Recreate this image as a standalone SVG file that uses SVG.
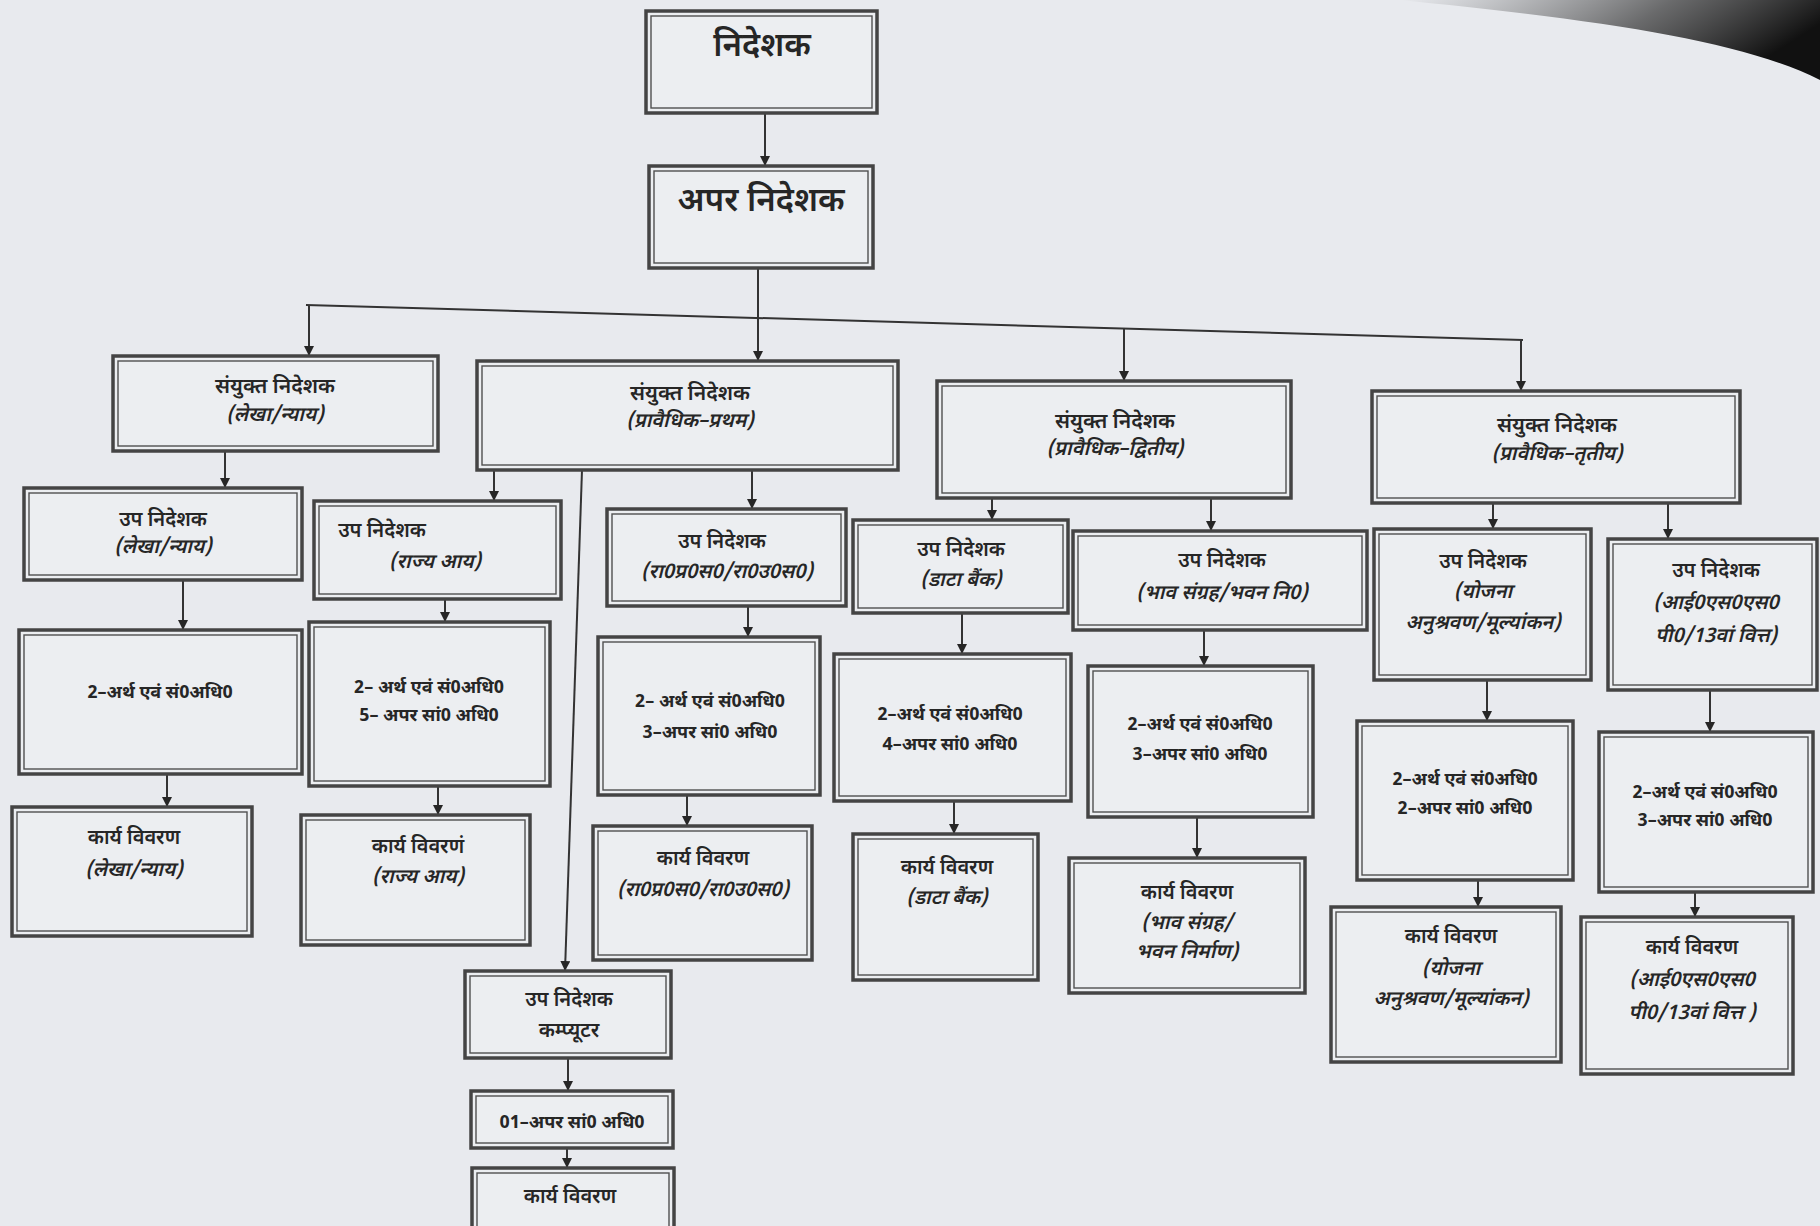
<svg xmlns="http://www.w3.org/2000/svg" width="1820" height="1226" viewBox="0 0 1820 1226">
<defs>
<style>
.o{fill:#eceef1;stroke:#444;stroke-width:3.5}
.i{fill:none;stroke:#505050;stroke-width:1.4}
text{font-family:"Noto Sans Devanagari","Lohit Devanagari","Noto Sans","DejaVu Sans",sans-serif;fill:#262626;text-anchor:middle;font-weight:600}
.t0{font-size:33px}
.t1{font-size:21px}
.it{font-size:20px;font-style:italic}
.t2{font-size:20px}
.st{font-size:18px;font-weight:700}
.ln{stroke:#333;stroke-width:2;fill:none}
</style>
<marker id="ah" viewBox="0 0 10 10" refX="10" refY="5" markerWidth="10" markerHeight="10" markerUnits="userSpaceOnUse" orient="auto">
<path d="M0,0 L10,5 L0,10 Z" fill="#262626"/>
</marker>
<linearGradient id="sm" x1="0" y1="0" x2="1" y2="0.3">
<stop offset="0" stop-color="#555" stop-opacity="0"/>
<stop offset="0.6" stop-color="#333" stop-opacity="0.7"/>
<stop offset="1" stop-color="#111" stop-opacity="1"/>
</linearGradient>
</defs>
<rect width="1820" height="1226" fill="#e8eaee"/>
<path d="M1400,0 L1820,0 L1820,80 C1740,40 1600,20 1400,0 Z" fill="url(#sm)"/>

<g id="connectors">
<line class="ln" x1="765" y1="113" x2="765" y2="166" marker-end="url(#ah)"/>
<line class="ln" x1="306" y1="305" x2="1523" y2="340"/>
<line class="ln" x1="309" y1="305" x2="309" y2="356" marker-end="url(#ah)"/>
<line class="ln" x1="758" y1="268" x2="758" y2="361" marker-end="url(#ah)"/>
<line class="ln" x1="1124" y1="329" x2="1124" y2="381" marker-end="url(#ah)"/>
<line class="ln" x1="1521" y1="340" x2="1521" y2="391" marker-end="url(#ah)"/>
<line class="ln" x1="225" y1="451" x2="225" y2="488" marker-end="url(#ah)"/>
<line class="ln" x1="494" y1="470" x2="494" y2="501" marker-end="url(#ah)"/>
<line class="ln" x1="752" y1="470" x2="752" y2="509" marker-end="url(#ah)"/>
<line class="ln" x1="582" y1="470" x2="565" y2="971" marker-end="url(#ah)"/>
<line class="ln" x1="992" y1="498" x2="992" y2="520" marker-end="url(#ah)"/>
<line class="ln" x1="1211" y1="498" x2="1211" y2="531" marker-end="url(#ah)"/>
<line class="ln" x1="1493" y1="503" x2="1493" y2="529" marker-end="url(#ah)"/>
<line class="ln" x1="1668" y1="503" x2="1668" y2="539" marker-end="url(#ah)"/>
<line class="ln" x1="183" y1="580" x2="183" y2="630" marker-end="url(#ah)"/>
<line class="ln" x1="445" y1="599" x2="445" y2="622" marker-end="url(#ah)"/>
<line class="ln" x1="748" y1="606" x2="748" y2="637" marker-end="url(#ah)"/>
<line class="ln" x1="962" y1="613" x2="962" y2="654" marker-end="url(#ah)"/>
<line class="ln" x1="1204" y1="630" x2="1204" y2="666" marker-end="url(#ah)"/>
<line class="ln" x1="1487" y1="680" x2="1487" y2="721" marker-end="url(#ah)"/>
<line class="ln" x1="1710" y1="690" x2="1710" y2="732" marker-end="url(#ah)"/>
<line class="ln" x1="568" y1="1058" x2="568" y2="1091" marker-end="url(#ah)"/>
<line class="ln" x1="167" y1="774" x2="167" y2="807" marker-end="url(#ah)"/>
<line class="ln" x1="438" y1="786" x2="438" y2="815" marker-end="url(#ah)"/>
<line class="ln" x1="687" y1="795" x2="687" y2="826" marker-end="url(#ah)"/>
<line class="ln" x1="954" y1="801" x2="954" y2="834" marker-end="url(#ah)"/>
<line class="ln" x1="1197" y1="817" x2="1197" y2="858" marker-end="url(#ah)"/>
<line class="ln" x1="1478" y1="880" x2="1478" y2="907" marker-end="url(#ah)"/>
<line class="ln" x1="1695" y1="892" x2="1695" y2="917" marker-end="url(#ah)"/>
<line class="ln" x1="567" y1="1148" x2="567" y2="1168" marker-end="url(#ah)"/>
</g>

<g id="director"><rect class="o" x="646" y="11" width="231" height="102"/><rect class="i" x="651" y="16" width="221" height="92"/>
<text class="t0" x="762" y="56">निदेशक</text></g>
<g id="addl-director"><rect class="o" x="649" y="166" width="224" height="102"/><rect class="i" x="654" y="171" width="214" height="92"/>
<text class="t0" x="761" y="211">अपर निदेशक</text></g>

<g id="jd-lekha"><rect class="o" x="113" y="356" width="325" height="95"/><rect class="i" x="118" y="361" width="315" height="85"/>
<text class="t1" x="275" y="393">संयुक्त निदेशक</text><text class="it" x="275" y="421">(लेखा/न्याय)</text></g>
<g id="jd-pratham"><rect class="o" x="477" y="361" width="421" height="109"/><rect class="i" x="482" y="366" width="411" height="99"/>
<text class="t1" x="690" y="400">संयुक्त निदेशक</text><text class="it" x="690" y="427">(प्रावैधिक–प्रथम)</text></g>
<g id="jd-dvitiya"><rect class="o" x="937" y="381" width="354" height="117"/><rect class="i" x="942" y="386" width="344" height="107"/>
<text class="t1" x="1115" y="428">संयुक्त निदेशक</text><text class="it" x="1115" y="455">(प्रावैधिक–द्वितीय)</text></g>
<g id="jd-tritiya"><rect class="o" x="1372" y="391" width="368" height="112"/><rect class="i" x="1377" y="396" width="358" height="102"/>
<text class="t1" x="1557" y="432">संयुक्त निदेशक</text><text class="it" x="1557" y="460">(प्रावैधिक–तृतीय)</text></g>

<g id="dd-lekha"><rect class="o" x="24" y="488" width="278" height="92"/><rect class="i" x="29" y="493" width="268" height="82"/>
<text class="t2" x="163" y="526">उप निदेशक</text><text class="it" x="163" y="553">(लेखा/न्याय)</text></g>
<g id="dd-rajya"><rect class="o" x="314" y="501" width="247" height="98"/><rect class="i" x="319" y="506" width="237" height="88"/>
<text class="t2" x="382" y="537">उप निदेशक</text><text class="it" x="435" y="568">(राज्य आय)</text></g>
<g id="dd-raprasa"><rect class="o" x="607" y="509" width="239" height="97"/><rect class="i" x="612" y="514" width="229" height="87"/>
<text class="t2" x="722" y="548">उप निदेशक</text><text class="it" x="727" y="578">(रा0प्र0स0/रा0उ0स0)</text></g>
<g id="dd-data"><rect class="o" x="853" y="520" width="215" height="93"/><rect class="i" x="858" y="525" width="205" height="83"/>
<text class="t2" x="961" y="556">उप निदेशक</text><text class="it" x="961" y="586">(डाटा बैंक)</text></g>
<g id="dd-bhav"><rect class="o" x="1073" y="531" width="294" height="99"/><rect class="i" x="1078" y="536" width="284" height="89"/>
<text class="t2" x="1222" y="567">उप निदेशक</text><text class="it" x="1222" y="599">(भाव संग्रह/भवन नि0)</text></g>
<g id="dd-yojana"><rect class="o" x="1374" y="529" width="217" height="151"/><rect class="i" x="1379" y="534" width="207" height="141"/>
<text class="t2" x="1483" y="568">उप निदेशक</text><text class="it" x="1483" y="598">(योजना</text><text class="it" x="1483" y="629">अनुश्रवण/मूल्यांकन)</text></g>
<g id="dd-iss"><rect class="o" x="1608" y="539" width="209" height="151"/><rect class="i" x="1613" y="544" width="199" height="141"/>
<text class="t2" x="1716" y="577">उप निदेशक</text><text class="it" x="1716" y="609">(आई0एस0एस0</text><text class="it" x="1716" y="642">पी0/13वां वित्त)</text></g>
<g id="dd-computer"><rect class="o" x="465" y="971" width="206" height="87"/><rect class="i" x="470" y="976" width="196" height="77"/>
<text class="t2" x="569" y="1006">उप निदेशक</text><text class="t2" x="569" y="1037">कम्प्यूटर</text></g>

<g id="staff-lekha"><rect class="o" x="19" y="630" width="283" height="144"/><rect class="i" x="24" y="635" width="273" height="134"/>
<text class="st" x="160" y="698">2–अर्थ एवं सं0अधि0</text></g>
<g id="staff-rajya"><rect class="o" x="309" y="622" width="241" height="164"/><rect class="i" x="314" y="627" width="231" height="154"/>
<text class="st" x="429" y="693">2– अर्थ एवं सं0अधि0</text><text class="st" x="429" y="721">5– अपर सां0 अधि0</text></g>
<g id="staff-raprasa"><rect class="o" x="598" y="637" width="222" height="158"/><rect class="i" x="603" y="642" width="212" height="148"/>
<text class="st" x="710" y="707">2– अर्थ एवं सं0अधि0</text><text class="st" x="710" y="738">3–अपर सां0 अधि0</text></g>
<g id="staff-data"><rect class="o" x="834" y="654" width="237" height="147"/><rect class="i" x="839" y="659" width="227" height="137"/>
<text class="st" x="950" y="720">2–अर्थ एवं सं0अधि0</text><text class="st" x="950" y="750">4–अपर सां0 अधि0</text></g>
<g id="staff-bhav"><rect class="o" x="1088" y="666" width="225" height="151"/><rect class="i" x="1093" y="671" width="215" height="141"/>
<text class="st" x="1200" y="730">2–अर्थ एवं सं0अधि0</text><text class="st" x="1200" y="760">3–अपर सां0 अधि0</text></g>
<g id="staff-yojana"><rect class="o" x="1357" y="721" width="216" height="159"/><rect class="i" x="1362" y="726" width="206" height="149"/>
<text class="st" x="1465" y="785">2–अर्थ एवं सं0अधि0</text><text class="st" x="1465" y="814">2–अपर सां0 अधि0</text></g>
<g id="staff-iss"><rect class="o" x="1599" y="732" width="214" height="160"/><rect class="i" x="1604" y="737" width="204" height="150"/>
<text class="st" x="1705" y="798">2–अर्थ एवं सं0अधि0</text><text class="st" x="1705" y="826">3–अपर सां0 अधि0</text></g>
<g id="staff-computer"><rect class="o" x="471" y="1091" width="202" height="57"/><rect class="i" x="476" y="1096" width="192" height="47"/>
<text class="st" x="572" y="1128">01–अपर सां0 अधि0</text></g>

<g id="work-lekha"><rect class="o" x="12" y="807" width="240" height="129"/><rect class="i" x="17" y="812" width="230" height="119"/>
<text class="t2" x="134" y="844">कार्य विवरण</text><text class="it" x="134" y="876">(लेखा/न्याय)</text></g>
<g id="work-rajya"><rect class="o" x="301" y="815" width="229" height="130"/><rect class="i" x="306" y="820" width="219" height="120"/>
<text class="t2" x="418" y="853">कार्य विवरणं</text><text class="it" x="418" y="883">(राज्य आय)</text></g>
<g id="work-raprasa"><rect class="o" x="593" y="826" width="219" height="134"/><rect class="i" x="598" y="831" width="209" height="124"/>
<text class="t2" x="703" y="865">कार्य विवरण</text><text class="it" x="703" y="896">(रा0प्र0स0/रा0उ0स0)</text></g>
<g id="work-data"><rect class="o" x="853" y="834" width="185" height="146"/><rect class="i" x="858" y="839" width="175" height="136"/>
<text class="t2" x="947" y="874">कार्य विवरण</text><text class="it" x="947" y="904">(डाटा बैंक)</text></g>
<g id="work-bhav"><rect class="o" x="1069" y="858" width="236" height="135"/><rect class="i" x="1074" y="863" width="226" height="125"/>
<text class="t2" x="1187" y="899">कार्य विवरण</text><text class="it" x="1187" y="929">(भाव संग्रह/</text><text class="it" x="1187" y="958">भवन निर्माण)</text></g>
<g id="work-yojana"><rect class="o" x="1331" y="907" width="230" height="155"/><rect class="i" x="1336" y="912" width="220" height="145"/>
<text class="t2" x="1451" y="943">कार्य विवरण</text><text class="it" x="1451" y="975">(योजना</text><text class="it" x="1451" y="1005">अनुश्रवण/मूल्यांकन)</text></g>
<g id="work-iss"><rect class="o" x="1581" y="917" width="212" height="157"/><rect class="i" x="1586" y="922" width="202" height="147"/>
<text class="t2" x="1692" y="954">कार्य विवरण</text><text class="it" x="1692" y="986">(आई0एस0एस0</text><text class="it" x="1692" y="1019">पी0/13वां वित्त )</text></g>
<g id="work-computer"><rect class="o" x="472" y="1168" width="202" height="66"/><rect class="i" x="477" y="1173" width="192" height="56"/>
<text class="t2" x="570" y="1203">कार्य विवरण</text></g>
</svg>
